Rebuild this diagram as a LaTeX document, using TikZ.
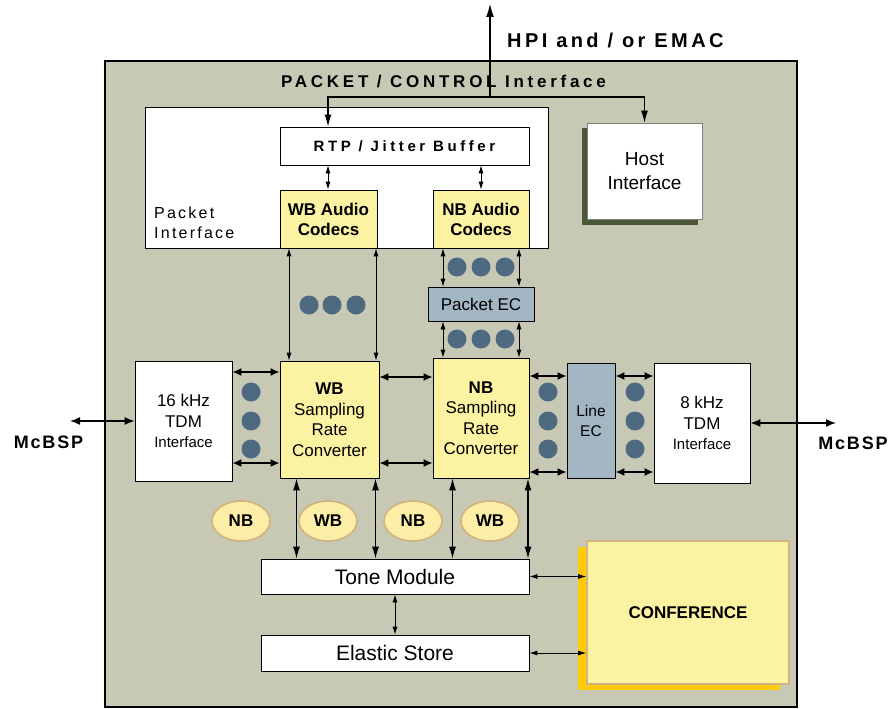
\documentclass[tikz,border=0pt]{standalone}
\usepackage{fontspec}
\setmainfont{Liberation Sans}
\newfontfamily\trackwide[LetterSpace=22]{Liberation Sans}
\newfontfamily\trackrtp[LetterSpace=24]{Liberation Sans}
\newfontfamily\tracklabel[LetterSpace=14]{Liberation Sans}
\newfontfamily\trackmid[LetterSpace=10]{Liberation Sans}
\newfontfamily\tracksmall[LetterSpace=17]{Liberation Sans}
\usetikzlibrary{arrows.meta,shapes.geometric}

\definecolor{chipbg}{HTML}{C7C9B5}
\definecolor{blkyellow}{HTML}{FCF3A2}
\definecolor{blkblue}{HTML}{A3B6C3}
\definecolor{dotblue}{HTML}{4E6A80}
\definecolor{hostshade}{HTML}{4B5838}
\definecolor{confshade}{HTML}{FFCA08}
\definecolor{tan}{HTML}{D2B27C}
\definecolor{badgefill}{HTML}{FCEEA6}

\begin{document}
\begin{tikzpicture}[x=1pt,y=-1pt,
  box/.style={draw=black, line width=0.8pt, inner sep=0pt, align=center,
    font=\fontsize{17}{20.5}\selectfont},
  whitebox/.style={box, fill=white},
  yelbox/.style={box, fill=blkyellow},
  bluebox/.style={box, fill=blkblue},
  badge/.style={ellipse, draw=tan, line width=1.6pt, fill=badgefill,
    minimum width=58pt, minimum height=40pt, inner sep=0pt,
    font=\bfseries\fontsize{17}{20}\selectfont},
  thinarr/.style={line width=0.8pt, {Latex[length=8pt,width=5pt]}-{Latex[length=8pt,width=5pt]}},
  horzarr/.style={line width=1.6pt, {Latex[length=9pt,width=8pt]}-{Latex[length=9pt,width=8pt]}},
  vertarr/.style={line width=1.1pt, {Latex[length=12pt,width=7pt]}-{Latex[length=12pt,width=7pt]}},
  downarr/.style={line width=1.1pt, -{Latex[length=12pt,width=7pt]}},
  sidearr/.style={line width=1.5pt, {Latex[length=10pt,width=8pt]}-{Latex[length=10pt,width=8pt]}},
  dot/.style={fill=dotblue}
]
\useasboundingbox (0,0) rectangle (891,709);

% main chip outline
\node[draw=black, line width=2pt, fill=chipbg, minimum width=692pt, minimum height=646pt,
  inner sep=0pt] (chip) at (451,384) {};

% titles
\node[font=\tracksmall\bfseries\fontsize{20}{22}\selectfont, anchor=west, inner sep=0pt]
  (hpilabel) at (507,40) {HPI and / or EMAC};
\node[font=\trackwide\bfseries\fontsize{17}{20}\selectfont, inner sep=0pt]
  (pclabel) at (443.5,81.5) {PACKET / CONTROL Interface};

% packet interface area
\node[whitebox, minimum width=403pt, minimum height=141pt] (pkt) at (346.5,177.5) {};
\node[font=\tracklabel\fontsize{16}{20}\selectfont, align=left, anchor=west, inner sep=0pt]
  (pktlabel) at (154,223) {Packet\\Interface};
\node[whitebox, minimum width=249pt, minimum height=38pt,
  font=\trackrtp\bfseries\fontsize{15}{18}\selectfont] (rtp) at (404.5,146) {RTP / Jitter Buffer};
\node[yelbox, minimum width=97pt, minimum height=58pt, font=\bfseries\fontsize{17}{20}\selectfont]
  (wbc) at (328.5,219) {WB Audio\\Codecs};
\node[yelbox, minimum width=96pt, minimum height=58pt, font=\bfseries\fontsize{17}{20}\selectfont]
  (nbc) at (481,219) {NB Audio\\Codecs};

% host interface with its shadow
\node[fill=hostshade, draw=hostshade, minimum width=115pt, minimum height=96pt, inner sep=0pt]
  (hostsh) at (639.5,176) {};
\node[whitebox, draw=gray, minimum width=115pt, minimum height=96pt,
  font=\fontsize{19}{24}\selectfont] (host) at (644.5,171) {Host\\Interface};

% echo cancellers and rate converters
\node[bluebox, minimum width=106pt, minimum height=34pt] (pec) at (481,304) {Packet EC};
\node[whitebox, minimum width=97pt, minimum height=120pt]
  (tdm16) at (183.5,421) {16 kHz\\TDM\\{\fontsize{15}{18}\selectfont Interface}};
\node[yelbox, minimum width=99pt, minimum height=117pt]
  (wbsrc) at (329.5,419.5) {\textbf{WB}\\Sampling\\Rate\\Converter};
\node[yelbox, minimum width=96pt, minimum height=120pt]
  (nbsrc) at (481,418) {\textbf{NB}\\Sampling\\Rate\\Converter};
\node[bluebox, minimum width=48pt, minimum height=115pt, font=\fontsize{15.5}{20}\selectfont]
  (lec) at (591,420.5) {Line\\EC};
\node[whitebox, minimum width=96pt, minimum height=120pt]
  (tdm8) at (702,423) {8 kHz\\TDM\\{\fontsize{15}{18}\selectfont Interface}};

% tone path
\node[whitebox, minimum width=268pt, minimum height=35pt, font=\fontsize{21}{24}\selectfont]
  (tone) at (395,576.5) {Tone Module};
\node[whitebox, minimum width=268pt, minimum height=36pt, font=\fontsize{21}{24}\selectfont]
  (elastic) at (395,653) {Elastic Store};

% conference block with its shadow
\node[fill=confshade, minimum width=202pt, minimum height=143pt, inner sep=0pt]
  (confsh) at (679,618.5) {};
\node[fill=blkyellow, draw=tan, line width=1.6pt, minimum width=202pt, minimum height=143pt,
  inner sep=0pt, font=\bfseries\fontsize{17}{20}\selectfont] (conf) at (688,612.5) {CONFERENCE};

% narrow/wide band badges
\node[badge] (b1) at (241,521) {NB};
\node[badge] (b2) at (328,521) {WB};
\node[badge] (b3) at (413,521) {NB};
\node[badge] (b4) at (490,521) {WB};

% McBSP ports
\coordinate (mcl) at (70,421);
\coordinate (mcr) at (836,423);
\node[font=\trackmid\bfseries\fontsize{18}{20}\selectfont, inner sep=0pt] (mclabel) at (48.5,442) {McBSP};
\node[font=\trackmid\bfseries\fontsize{18}{20}\selectfont, inner sep=0pt] (mrlabel) at (853,443) {McBSP};
\draw[sidearr] (mcl) -- (tdm16.west);
\draw[sidearr] (tdm8.east) -- (mcr);

% host bus
\coordinate (hpi) at (490,4);
\coordinate (bus) at (490,97);
\draw[line width=1.1pt, -{Latex[length=13pt,width=8pt]}] (bus) -- (hpi);
\draw[downarr] (bus) -| (rtp.north -| 328,0);
\draw[downarr] (bus) -| (host.north);

% codec links
\draw[thinarr] (rtp.south -| 328,0) -- (wbc.north -| 328,0);
\draw[thinarr] (rtp.south -| 481,0) -- (nbc.north -| 481,0);
\draw[thinarr] (wbc.south -| 289,0) -- (wbsrc.north -| 289,0);
\draw[thinarr] (wbc.south -| 376,0) -- (wbsrc.north -| 376,0);
\draw[thinarr] (nbc.south -| 443,0) -- (pec.north -| 443,0);
\draw[thinarr] (nbc.south -| 519,0) -- (pec.north -| 519,0);
\draw[thinarr] (pec.south -| 443,0) -- (nbsrc.north -| 443,0);
\draw[thinarr] (pec.south -| 519,0) -- (nbsrc.north -| 519,0);

% horizontal data paths
\draw[horzarr] (tdm16.east |- 0,372) -- (wbsrc.west |- 0,372);
\draw[horzarr] (tdm16.east |- 0,463) -- (wbsrc.west |- 0,463);
\draw[horzarr] (wbsrc.east |- 0,377) -- (nbsrc.west |- 0,377);
\draw[horzarr] (wbsrc.east |- 0,463) -- (nbsrc.west |- 0,463);
\draw[horzarr] (nbsrc.east |- 0,376) -- (lec.west |- 0,376);
\draw[horzarr] (nbsrc.east |- 0,472) -- (lec.west |- 0,472);
\draw[horzarr] (lec.east |- 0,376) -- (tdm8.west |- 0,376);
\draw[horzarr] (lec.east |- 0,472) -- (tdm8.west |- 0,472);

% converters to tone module
\draw[vertarr] (wbsrc.south -| 296.5,0) -- (tone.north -| 296.5,0);
\draw[vertarr] (wbsrc.south -| 375.5,0) -- (tone.north -| 375.5,0);
\draw[vertarr] (nbsrc.south -| 452.5,0) -- (tone.north -| 452.5,0);
\draw[vertarr] (nbsrc.south -| 528,0) -- (tone.north -| 528,0);
\draw[thinarr] (tone.south) -- (elastic.north);
\draw[thinarr] (tone.east) -- (conf.west |- tone.east);
\draw[thinarr] (elastic.east) -- (conf.west |- elastic.east);

% channel dots
\foreach \x in {309,332,356} \fill[dot] (\x,305) circle (9.5);
\foreach \x in {457,481,505} {\fill[dot] (\x,267) circle (9.5); \fill[dot] (\x,339) circle (9.5);}
\foreach \y in {392,421,449} {
  \fill[dot] (251,\y) circle (9.5);
  \fill[dot] (548,\y) circle (9.5);
  \fill[dot] (635,\y) circle (9.5);
}
\end{tikzpicture}
\end{document}
